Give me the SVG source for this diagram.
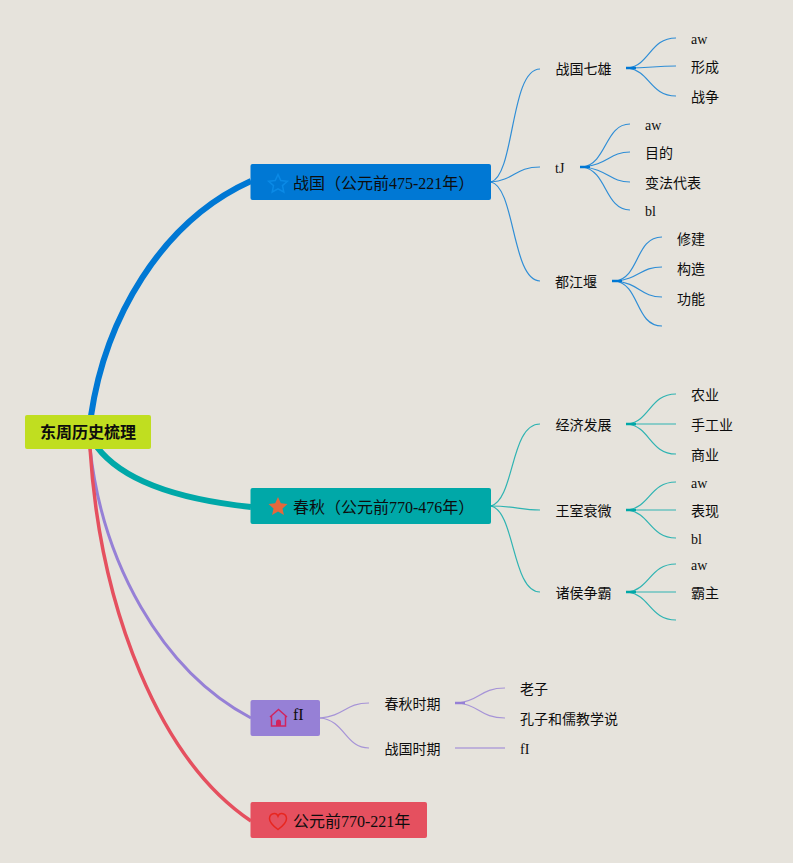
<svg xmlns="http://www.w3.org/2000/svg" width="793" height="863" viewBox="0 0 793 863">
<style>
text{font-family:"Liberation Serif","Noto Sans CJK SC",serif;fill:#0d0d0d}
.t{font-size:16px}.l{font-size:14px}
.root{font-size:16px;font-weight:bold;font-family:"Noto Sans CJK SC",sans-serif}
path{fill:none}
.b{stroke:#0078d4}.g{stroke:#00a8a8}.p{stroke:#9680d6}.r{stroke:#e5505f}
.th{stroke-width:1.2;opacity:.8}
.st{stroke-width:2.500}
path.star{fill:#e4683c}
path.door{fill:#d1245f}
</style>
<rect width="793" height="863" fill="#e6e3dc"/>
<g id="connectors">
<path class="b" stroke-width="6" d="M91 416C105 320 160 222 251 181"/>
<path class="g" stroke-width="6" d="M97 447C125 484 185 500 251 507"/>
<path class="p" stroke-width="3" d="M90 448C102 560 160 670 251 718"/>
<path class="r" stroke-width="3.500" d="M90 448C100 610 160 760 251 821"/>
<path class="b th" d="M491 182C515 175 510 69 540 69"/>
<path class="b th" d="M491 182C515 180 515 167 540 167"/>
<path class="b th" d="M491 182C515 187 512 281 540 281"/>
<path class="b st" d="M626 68H636"/>
<path class="b th" d="M628 68C650 65 650 38 676 38"/>
<path class="b th" d="M628 68C650 68 655 66 676 66"/>
<path class="b th" d="M628 68C650 71 650 96 676 96"/>
<path class="b st" d="M580 167H590"/>
<path class="b th" d="M583 167C607 163 605 124 630 124"/>
<path class="b th" d="M583 167C607 165 610 152 630 152"/>
<path class="b th" d="M583 167C607 169 610 182 630 182"/>
<path class="b th" d="M583 167C607 171 605 210 630 210"/>
<path class="b st" d="M612 281H622"/>
<path class="b th" d="M615 281C640 278 635 237 662 237"/>
<path class="b th" d="M615 281C640 279 640 267 662 267"/>
<path class="b th" d="M615 281C640 283 640 297 662 297"/>
<path class="b th" d="M615 281C640 284 635 326 662 326"/>
<path class="g th" d="M491 506C515 499 510 424 540 424"/>
<path class="g th" d="M491 506C515 506 520 510 540 510"/>
<path class="g th" d="M491 506C515 511 512 592 540 592"/>
<path class="g st" d="M626 424H636"/>
<path class="g th" d="M628 424C650 421 650 394 676 394"/>
<path class="g th" d="M628 424H676"/>
<path class="g th" d="M628 424C650 427 650 454 676 454"/>
<path class="g st" d="M626 510H636"/>
<path class="g th" d="M628 510C650 507 650 482 676 482"/>
<path class="g th" d="M628 510H676"/>
<path class="g th" d="M628 510C650 513 650 538 676 538"/>
<path class="g st" d="M626 592H636"/>
<path class="g th" d="M628 592C650 589 650 564 676 564"/>
<path class="g th" d="M628 592H676"/>
<path class="g th" d="M628 592C650 595 650 620 676 620"/>
<path class="p th" d="M320 718C345 716 345 703 369 703"/>
<path class="p th" d="M320 718C345 720 345 748 369 748"/>
<path class="p st" d="M455 703H465"/>
<path class="p th" d="M458 703C480 701 480 688 505 688"/>
<path class="p th" d="M458 703C480 705 480 718 505 718"/>
<path class="p" stroke-width="1.200" d="M455 748H505"/>
</g>
<g id="root"><rect x="25" y="415" width="126" height="34" rx="2" fill="#c0de20"/><text class="root" x="40" y="438">东周历史梳理</text></g>
<g id="n-zhanguo"><rect x="250.500" y="164" width="240.500" height="36" rx="2" fill="#0078d4"/>
<path d="M278 174.500l2.800 6 6.500.7-4.800 4.400 1.300 6.400-5.800-3.200-5.800 3.200 1.300-6.400-4.800-4.400 6.500-.7z" stroke="#0a8ae6" stroke-width="1.500"/>
<text class="t" x="293" y="189">战国（公元前475-221年）</text></g>
<g id="n-chunqiu"><rect x="250.500" y="488" width="240.500" height="36" rx="2" fill="#00a8a8"/>
<path class="star" d="M278 497l2.800 6.200 6.700.7-5 4.500 1.400 6.600-5.900-3.400-5.900 3.400 1.400-6.600-5-4.500 6.700-.7z"/>
<text class="t" x="293" y="513">春秋（公元前770-476年）</text></g>
<g id="n-fi"><rect x="250.500" y="700" width="69.500" height="36" rx="2" fill="#9680d6"/>
<path d="M270 717l8.500-7.500 8.500 7.500M271.500 715.500v10.500h14v-10.500" stroke="#d1245f" stroke-width="1.500"/><path class="door" d="M276 726v-4a2.500 2.500 0 0 1 5 0v4z"/>
<text class="t" x="293" y="720">fI</text></g>
<g id="n-time"><rect x="250.500" y="802" width="176.500" height="36" rx="2" fill="#e5505f"/>
<path d="M278 829.500c-5-3.700-8.500-6.800-8.500-10.800 0-5.500 6.700-7 8.500-2.500 1.800-4.500 8.500-3 8.500 2.500 0 4-3.500 7.100-8.500 10.800z" stroke="#e8261f" stroke-width="1.500"/>
<text class="t" x="293" y="827">公元前770-221年</text></g>
<g id="leaves">
<text class="l" x="555.500" y="74">战国七雄</text><text class="l" x="691" y="44">aw</text><text class="l" x="691" y="72">形成</text><text class="l" x="691" y="102">战争</text>
<text class="l" x="555" y="173">tJ</text><text class="l" x="645" y="130">aw</text><text class="l" x="645" y="158">目的</text><text class="l" x="645" y="188">变法代表</text><text class="l" x="645" y="216">bl</text>
<text class="l" x="555" y="287">都江堰</text><text class="l" x="677" y="244">修建</text><text class="l" x="677" y="274">构造</text><text class="l" x="677" y="304">功能</text>
<text class="l" x="555.500" y="430">经济发展</text><text class="l" x="691" y="400">农业</text><text class="l" x="691" y="430">手工业</text><text class="l" x="691" y="460">商业</text>
<text class="l" x="555.500" y="516">王室衰微</text><text class="l" x="691" y="488">aw</text><text class="l" x="691" y="516">表现</text><text class="l" x="691" y="544">bl</text>
<text class="l" x="555.500" y="598">诸侯争霸</text><text class="l" x="691" y="570">aw</text><text class="l" x="691" y="598">霸主</text>
<text class="l" x="384.500" y="709">春秋时期</text><text class="l" x="520" y="694">老子</text><text class="l" x="520" y="724">孔子和儒教学说</text>
<text class="l" x="384.500" y="754">战国时期</text><text class="l" x="520" y="754">fI</text>
</g>
</svg>
